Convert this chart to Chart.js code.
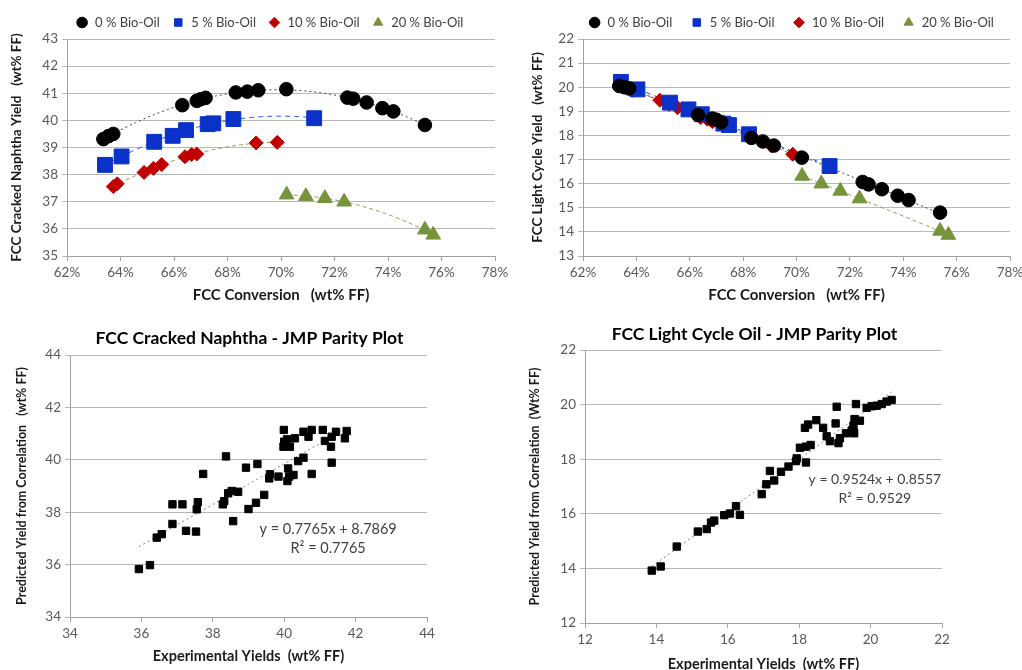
<!DOCTYPE html>
<html>
<head>
<meta charset="utf-8">
<title>FCC yields vs conversion</title>
<script src="https://cdn.jsdelivr.net/npm/chart.js@4.4.0/dist/chart.umd.min.js"></script>
<style>
    html, body { margin: 0; padding: 0; background: #fff; width: 1022px; height: 670px; overflow: hidden; }
    canvas { position: absolute; }
</style>
</head>
<body>
<canvas id="naphtha-conv" width="515" height="305" style="left:0;top:0"></canvas>
<canvas id="lco-conv" width="510" height="305" style="left:520px;top:0"></canvas>
<canvas id="naphtha-parity" width="496" height="350" style="left:0;top:320px"></canvas>
<canvas id="lco-parity" width="479" height="360" style="left:515px;top:320px"></canvas>
<script>
// series names (legend)
const seriesNames = ['0 % Bio-Oil', '5 % Bio-Oil', '10 % Bio-Oil', '20 % Bio-Oil'];

// FCC conversion (wt% FF) per series
const conv0  = [63.36, 63.55, 63.73, 66.31, 66.85, 67.0, 67.18, 68.31, 68.74, 69.15, 70.2, 72.48, 72.7, 73.2, 73.79, 74.2, 75.38];
const conv5  = [63.42, 64.04, 65.26, 65.95, 66.45, 67.26, 67.47, 68.22, 71.24];
const conv10 = [63.73, 63.88, 64.88, 65.23, 65.54, 66.41, 66.66, 66.85, 69.07, 69.86];
const conv20 = [70.21, 70.93, 71.64, 72.36, 75.38, 75.69];

// cracked naphtha yield (wt% FF)
const naphtha0  = [39.31, 39.42, 39.5, 40.56, 40.72, 40.78, 40.83, 41.03, 41.06, 41.11, 41.15, 40.84, 40.8, 40.66, 40.45, 40.33, 39.83];
const naphtha5  = [38.36, 38.67, 39.21, 39.43, 39.64, 39.86, 39.89, 40.05, 40.08];
const naphtha10 = [37.56, 37.66, 38.08, 38.23, 38.37, 38.66, 38.74, 38.76, 39.17, 39.19];
const naphtha20 = [37.26, 37.2, 37.13, 37.0, 35.97, 35.78];

// light cycle oil yield (wt% FF)
const lco0  = [20.05, 20.0, 19.95, 18.85, 18.7, 18.65, 18.55, 17.9, 17.75, 17.58, 17.08, 16.07, 15.97, 15.77, 15.5, 15.32, 14.8];
const lco5  = [20.22, 19.91, 19.36, 19.08, 18.88, 18.49, 18.43, 18.05, 16.73];
const lco10 = [19.96, 19.87, 19.46, 19.29, 19.15, 18.74, 18.67, 18.57, 17.56, 17.22];
const lco20 = [16.32, 16.0, 15.7, 15.38, 14.04, 13.87];

// parity plot: experimental vs predicted naphtha
const naphthaExp  = [35.93, 36.24, 36.43, 36.57, 36.87, 36.87, 37.15, 37.25, 37.53, 37.55, 37.58, 37.73, 38.28, 38.32, 38.37, 38.43, 38.53, 38.71, 38.57, 38.93, 39.0, 39.21, 39.25, 39.44, 39.58, 39.6, 39.84, 39.99, 39.98, 40.0, 40.08, 40.14, 40.11, 40.09, 40.16, 40.26, 40.3, 40.39, 40.54, 40.54, 40.68, 40.77, 40.77, 41.08, 41.14, 41.31, 41.33, 41.33, 41.45, 41.7, 41.75];
const naphthaPred = [35.83, 35.98, 37.03, 37.16, 37.55, 38.3, 38.3, 37.29, 37.26, 38.11, 38.38, 39.46, 38.3, 38.42, 40.13, 38.72, 38.81, 38.78, 37.66, 39.7, 38.12, 38.36, 39.84, 38.66, 39.29, 39.45, 39.36, 41.14, 40.5, 40.69, 40.78, 39.36, 39.67, 39.19, 40.5, 39.42, 40.82, 39.95, 40.08, 41.07, 40.88, 41.14, 39.46, 41.14, 40.72, 40.5, 39.89, 40.88, 41.07, 40.82, 41.1];
const naphthaFit  = [0.7765, 8.7869];
const naphthaEq   = ['y = 0.7765x + 8.7869', 'R² = 0.7765'];

// parity plot: experimental vs predicted LCO
const lcoExp  = [13.87, 14.12, 14.57, 15.16, 15.41, 15.53, 15.62, 15.9, 16.06, 16.23, 16.34, 16.95, 17.08, 17.3, 17.18, 17.49, 17.7, 17.91, 17.93, 18.19, 18.02, 18.19, 18.32, 18.16, 18.25, 18.48, 18.67, 18.77, 18.86, 19.02, 19.1, 19.14, 19.31, 19.54, 19.47, 19.52, 19.55, 19.7, 19.05, 19.59, 19.89, 20.03, 20.17, 20.31, 20.45, 20.59];
const lcoPred = [13.92, 14.07, 14.8, 15.35, 15.44, 15.68, 15.75, 15.95, 16.01, 16.28, 15.96, 16.72, 17.08, 17.22, 17.57, 17.54, 17.73, 17.93, 18.03, 17.88, 18.42, 18.46, 18.52, 19.15, 19.27, 19.43, 19.15, 18.84, 18.66, 19.31, 18.59, 18.77, 18.95, 18.95, 19.05, 19.23, 19.47, 19.41, 19.92, 20.02, 19.88, 19.94, 19.96, 20.02, 20.11, 20.17];
const lcoFit  = [0.9524, 0.8557];
const lcoEq   = ['y = 0.9524x + 0.8557', 'R² = 0.9529'];

const seriesColors = ['#000000', '#0a32c8', '#c00000', '#77933c'];
const pointStyles = ['circle', 'rect', 'rectRot', 'triangle'];
const pointRadii = [6.8, 10.5, 7, 8.5];
const gridColor = '#b8b8b8';
const axisColor = '#a0a0a0';
const titleColor = '#1a1a1a';

Chart.defaults.font.family = "Lato, 'Open Sans', sans-serif";
Chart.defaults.font.size = 13.5;
Chart.defaults.color = '#595959';
Chart.defaults.animation = false;

// least squares y = a + b*u + c*u^2 (u = x - mean) — the Excel polynomial trendline
function quadFit(xs, ys) {
    const m = xs.reduce((a, b) => a + b, 0) / xs.length;
    const s = [0, 0, 0, 0, 0], t = [0, 0, 0];
    xs.forEach((x, i) => {
        const u = x - m;
        let p = 1;
        for (let k = 0; k < 5; k++) {
            s[k] += p;
            if (k < 3) t[k] += p * ys[i];
            p *= u;
        }
    });
    const det3 = (a) => a[0][0] * (a[1][1] * a[2][2] - a[1][2] * a[2][1])
        - a[0][1] * (a[1][0] * a[2][2] - a[1][2] * a[2][0])
        + a[0][2] * (a[1][0] * a[2][1] - a[1][1] * a[2][0]);
    const M = [[s[0], s[1], s[2]], [s[1], s[2], s[3]], [s[2], s[3], s[4]]];
    const D = det3(M);
    const coef = [0, 1, 2].map(c => det3(M.map((row, r) => row.map((v, j) => j === c ? t[r] : v))) / D);
    return x => coef[0] + coef[1] * (x - m) + coef[2] * (x - m) * (x - m);
}

// slide the legend / title block sideways after layout (Excel centres them off the plot)
const boxShift = {
    id: 'boxShift',
    afterLayout(chart, args, opts) {
        [['legend', opts.legendDx], ['titleBlock', opts.titleDx]].forEach(([key, dx]) => {
            const box = chart[key];
            if (box && dx) {
                box.left += dx;
                box.right += dx;
            }
        });
    }
};

function scatterSets(xLists, yLists) {
    return seriesNames.map((name, i) => ({
        label: name,
        data: xLists[i].map((x, j) => ({ x, y: yLists[i][j] })),
        backgroundColor: seriesColors[i],
        borderColor: seriesColors[i],
        borderWidth: 1,
        pointStyle: pointStyles[i],
        pointRadius: pointRadii[i],
        order: 0
    }));
}

function trendSets(xLists, yLists, colors, dashes) {
    return xLists.map((xs, i) => {
        const f = quadFit(xs, yLists[i]);
        const lo = Math.min(...xs), hi = Math.max(...xs);
        const pts = [];
        for (let k = 0; k <= 40; k++) {
            const x = lo + (hi - lo) * k / 40;
            pts.push({ x, y: f(x) });
        }
        return {
            label: 'trend', data: pts, showLine: true, pointRadius: 0,
            borderColor: colors[i], borderWidth: 1, borderDash: dashes[i], order: 1
        };
    });
}

function convChart(id, yLists, o) {
    const xLists = [conv0, conv5, conv10, conv20];
    const yTitleSize = 13.5;
    new Chart(document.getElementById(id), {
        type: 'scatter',
        data: {
            datasets: [
                ...scatterSets(xLists, yLists),
                ...trendSets(xLists, yLists, o.trendColors, [[2, 3], [5, 4], [4, 3], [4, 3]])
            ]
        },
        options: {
            responsive: false,
            layout: { padding: { top: o.padTop, right: 20, left: 0, bottom: 0 } },
            plugins: {
                tooltip: { enabled: false },
                boxShift: { legendDx: o.legendDx },
                legend: {
                    labels: {
                        usePointStyle: true, boxHeight: 7.5, padding: o.legendGap, color: '#404040',
                        font: { size: 13 },
                        filter: item => item.text !== 'trend'
                    }
                }
            },
            scales: {
                x: {
                    type: 'linear', min: 62, max: 78,
                    ticks: { stepSize: 2, padding: 4, autoSkip: false, callback: v => v + '%' },
                    grid: { drawOnChartArea: false, tickLength: 5, color: axisColor },
                    border: { color: axisColor },
                    title: { display: true, text: 'FCC Conversion   (wt% FF)', color: titleColor,
                             font: { size: 15, weight: 'bold' }, padding: { top: 0, bottom: 1 } },
                    afterFit: s => { s.height = 49; }
                },
                y: {
                    min: o.yMin, max: o.yMax,
                    ticks: { stepSize: 1, padding: 4, autoSkip: false },
                    grid: { color: gridColor, tickLength: 5 },
                    border: { color: axisColor },
                    title: { display: true, text: o.yTitle, color: titleColor,
                             font: { size: yTitleSize, weight: 'bold' },
                             padding: { top: o.yTitleX - yTitleSize * 0.6, bottom: 0 } },
                    afterFit: s => { s.width = o.plotLeft; }
                }
            }
        },
        plugins: [boxShift]
    });
}

const equationLabel = {
    id: 'equationLabel',
    afterDatasetsDraw(chart, args, opts) {
        if (!opts.lines) return;
        const { ctx, scales: { x, y } } = chart;
        ctx.save();
        ctx.font = opts.size + "px Lato, 'Open Sans', sans-serif";
        ctx.fillStyle = '#404040';
        ctx.textAlign = 'center';
        ctx.textBaseline = 'middle';
        opts.lines.forEach((line, i) => {
            ctx.fillText(line, x.getPixelForValue(opts.x), y.getPixelForValue(opts.y) + i * 19);
        });
        ctx.restore();
    }
};

function parityChart(id, exp, pred, fit, eq, o) {
    const lo = Math.min(...exp), hi = Math.max(...exp);
    const yTitleSize = 12.5;
    new Chart(document.getElementById(id), {
        type: 'scatter',
        data: {
            datasets: [
                {
                    label: 'data', data: exp.map((x, i) => ({ x, y: pred[i] })),
                    backgroundColor: '#000', borderColor: '#000', borderWidth: 1,
                    pointStyle: 'rect', pointRadius: 5.2, order: 0
                },
                {
                    label: 'fit', showLine: true, pointRadius: 0, order: 1,
                    data: [lo, hi].map(x => ({ x, y: fit[0] * x + fit[1] })),
                    borderColor: '#808080', borderWidth: 1, borderDash: [2, 3]
                }
            ]
        },
        options: {
            responsive: false,
            layout: { padding: { top: 0, right: o.padRight, left: 0, bottom: 0 } },
            plugins: {
                tooltip: { enabled: false },
                legend: { display: false },
                boxShift: { titleDx: o.titleDx },
                title: {
                    display: true, text: o.title, color: '#000',
                    font: { size: 17.5, weight: 'bold' }, padding: o.titlePad
                },
                equationLabel: { lines: eq, x: o.eqX, y: o.eqY, size: o.eqSize }
            },
            scales: {
                x: {
                    type: 'linear', min: o.min, max: o.max,
                    ticks: { stepSize: 2, padding: 4, autoSkip: false },
                    grid: { drawOnChartArea: false, tickLength: 5, color: axisColor },
                    border: { color: axisColor },
                    title: { display: true, text: 'Experimental Yields  (wt% FF)', color: titleColor,
                             font: { size: 14.5, weight: 'bold' }, padding: { top: 0, bottom: o.xTitlePad } },
                    afterFit: s => { s.height = o.xHeight; }
                },
                y: {
                    min: o.min, max: o.max,
                    ticks: { stepSize: 2, padding: 4, autoSkip: false },
                    grid: { color: gridColor, tickLength: 5 },
                    border: { color: axisColor },
                    title: { display: true, text: o.yTitle, color: titleColor,
                             font: { size: yTitleSize, weight: 'bold' },
                             padding: { top: o.yTitleX - yTitleSize * 0.6, bottom: 0 } },
                    afterFit: s => { s.width = 70; }
                }
            }
        },
        plugins: [equationLabel, boxShift]
    });
}

convChart('naphtha-conv', [naphtha0, naphtha5, naphtha10, naphtha20], {
    yMin: 35, yMax: 43, yTitle: 'FCC Cracked Naphtha Yield   (wt% FF)',
    plotLeft: 67, yTitleX: 17, legendGap: 12, legendDx: 22, padTop: 4,
    trendColors: ['#404040', '#3355ee', '#9a9a60', '#8aa060']
});
convChart('lco-conv', [lco0, lco5, lco10, lco20], {
    yMin: 13, yMax: 22, yTitle: 'FCC Light Cycle Yield   (wt% FF)',
    plotLeft: 63, yTitleX: 18, legendGap: 18, legendDx: 26, padTop: -2,
    trendColors: ['#404040', '#3355ee', '#e05050', '#8aa060']
});

parityChart('naphtha-parity', naphthaExp, naphthaPred, naphthaFit, naphthaEq, {
    title: 'FCC Cracked Naphtha - JMP Parity Plot', min: 34, max: 44,
    padRight: 69, titleDx: 36, titlePad: { top: 7.5, bottom: 6.5 }, xHeight: 53, xTitlePad: 5,
    yTitle: 'Predicted Yield from Correlation   (wt% FF)', yTitleX: 22,
    eqX: 41.23, eqY: 37.36, eqSize: 14.5
});
parityChart('lco-parity', lcoExp, lcoPred, lcoFit, lcoEq, {
    title: 'FCC Light Cycle Oil - JMP Parity Plot', min: 12, max: 22,
    padRight: 52, titleDx: 26, titlePad: { top: 3.5, bottom: 5.5 }, xHeight: 57, xTitlePad: 7,
    yTitle: 'Predicted Yield from Correlation  (Wt% FF)', yTitleX: 20,
    eqX: 20.12, eqY: 17.27, eqSize: 14
});
</script>
</body>
</html>
